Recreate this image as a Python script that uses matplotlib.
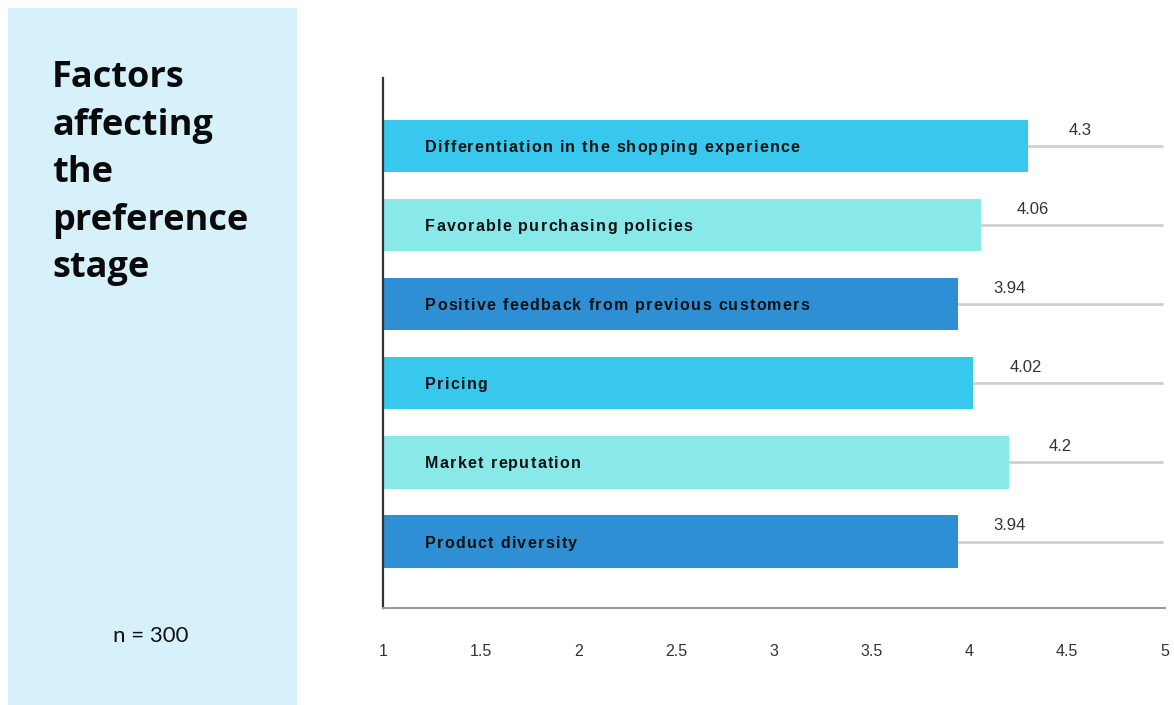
import matplotlib.pyplot as plt
from matplotlib.patches import Rectangle
from matplotlib.font_manager import FontProperties

# Mean scores per factor (1-5 scale), top to bottom
factors = [
    "Differentiation in the shopping experience",
    "Favorable purchasing policies",
    "Positive feedback from previous customers",
    "Pricing",
    "Market reputation",
    "Product diversity",
]
scores = [4.3, 4.06, 3.94, 4.02, 4.2, 3.94]
value_labels = ["4.3", "4.06", "3.94", "4.02", "4.2", "3.94"]
xticks = [1, 1.5, 2, 2.5, 3, 3.5, 4, 4.5, 5]
xtick_labels = ["1", "1.5", "2", "2.5", "3", "3.5", "4", "4.5", "5"]
title = "Factors\naffecting\nthe\npreference\nstage"
sample_note = "n = 300"

palette = ["#38c8ee", "#89e9e8", "#2f8fd5"]

W, H = 1174, 705
fig = plt.figure(figsize=(W / 100, H / 100), dpi=100)
fig.patch.set_facecolor("white")

# side panel with the title
fig.patches.append(Rectangle((8 / W, 0), (297 - 8) / W, (H - 8) / H,
                             transform=fig.transFigure, facecolor="#d6f1fa",
                             edgecolor="none", zorder=0))
fig.text(52 / W, 1 - 60 / H, title, ha="left", va="top", fontsize=26,
         fontweight="bold", family=["Open Sans", "DejaVu Sans"],
         linespacing=1.43, color="#0a0a0a")
fig.text(151 / W, 1 - 636 / H, sample_note, ha="center", va="center",
         fontsize=16, family=["Lato", "DejaVu Sans"], color="#111111")

ax = fig.add_axes([383 / W, 97 / H, (1165 - 383) / W, (608 - 78) / H])
ypos = list(range(len(factors)))
colors = [palette[i % 3] for i in ypos]

ax.hlines(ypos, 1, 4.99, color="#cfcfcf", lw=2, zorder=1)
ax.barh(ypos, [s - 1 for s in scores], left=1, height=0.66,
        color=colors, zorder=2)

# bar captions with letter spacing, placed one character at a time
renderer = fig.canvas.get_renderer()
label_font = FontProperties(family=["Liberation Sans", "DejaVu Sans"],
                            weight="bold", size=11.5)
tracking = 1.3  # extra pixels between characters


def spaced_text(x, y, s, dx0):
    dx = dx0
    for ch in s:
        ax.annotate(ch, (x, y), xytext=(dx, 0), textcoords="offset pixels",
                    ha="left", va="center_baseline", fontproperties=label_font,
                    color="#111111", zorder=3)
        w, _, _ = renderer.get_text_width_height_descent(ch, label_font, ismath=False)
        dx += w + tracking


for y, s, name, lab in zip(ypos, scores, factors, value_labels):
    spaced_text(1, y, name, 42)
    ax.annotate(lab, (s, y), xytext=(52, 16), textcoords="offset pixels",
                ha="center", va="center", fontsize=12,
                family=["Liberation Sans", "DejaVu Sans"], color="#333333",
                zorder=3)

ax.set_xlim(1, 5)
ax.set_ylim(len(factors) - 1 + 0.84, -0.86)
ax.set_xticks(xticks)
ax.set_xticklabels(xtick_labels, family=["Liberation Sans", "DejaVu Sans"],
                   fontsize=11.5, color="#333333")
ax.tick_params(axis="x", length=0, pad=26)
ax.set_yticks([])
for side in ["top", "right"]:
    ax.spines[side].set_visible(False)
ax.spines["left"].set_color("#333333")
ax.spines["left"].set_linewidth(1.6)
ax.spines["bottom"].set_color("#999999")
ax.spines["bottom"].set_linewidth(1.4)
ax.set_facecolor("none")

fig.savefig("out.png", dpi=100)
